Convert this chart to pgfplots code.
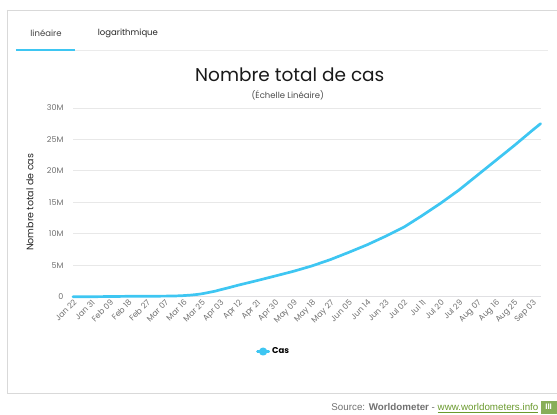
\documentclass[border=0pt]{standalone}
\usepackage{pgfplots}
\pgfplotsset{compat=1.18}
\usepackage{fontspec}
\setmainfont{Poppins}
\newfontfamily\srcfont{Liberation Sans}
\definecolor{wblue}{HTML}{3EC6F2}
\definecolor{tgray}{HTML}{707070}
\definecolor{ggray}{HTML}{E8E8E8}
\definecolor{wgreen}{HTML}{6A9A2E}
\begin{document}
\begin{tikzpicture}[x=1pt,y=1pt]
% canvas
\path (0,0) rectangle (557,415);
% frame
\draw[color=black!15, line width=0.8pt] (7,405) -- (557,405);
\draw[color=black!15, line width=0.8pt] (7,405) -- (7,21) -- (557,21);
\draw[color=black!8, line width=0.6pt] (16,365) -- (548,365);
\draw[wblue, line width=2pt] (16,365) -- (75,365);
\node[font=\fontsize{8.5}{10}\selectfont, text=black!75] at (46,382) {linéaire};
\node[font=\fontsize{8.5}{10}\selectfont, text=black!85] at (128,382) {logarithmique};
\node[font=\fontsize{18.5}{21}\selectfont, text=black!90] at (290,340) {Nombre total de cas};
\node[font=\fontsize{8.5}{10}\selectfont, text=black!70] at (288,320) {(Échelle Linéaire)};
\node[font=\srcfont\fontsize{9.8}{11}\selectfont, anchor=east, inner sep=0pt] at (539,7) {\textcolor{tgray}{Source: \textbf{Worldometer} - }\textcolor{wgreen}{\underline{www.worldometers.info}}};
\fill[wgreen!80] (541,1) rectangle (557,14);
\node[font=\srcfont\bfseries\fontsize{8}{9}\selectfont, text=white, inner sep=0pt] at (549,7.5) {III};
\begin{axis}[
  at={(73pt,118pt)}, anchor=south west,
  scale only axis, width=468pt, height=189pt,
  xmin=0, xmax=229, ymin=0, ymax=30000000,
  axis line style={draw=none},
  axis x line*=bottom,
  ytick={0,5000000,10000000,15000000,20000000,25000000,30000000},
  yticklabels={0,5M,10M,15M,20M,25M,30M},
  scaled y ticks=false,
  ymajorgrids, grid style={ggray, line width=0.8pt},
  xtick={0,9,...,225},
  xticklabels={Jan 22,Jan 31,Feb 09,Feb 18,Feb 27,Mar 07,Mar 16,Mar 25,Apr 03,Apr 12,Apr 21,Apr 30,May 09,May 18,May 27,Jun 05,Jun 14,Jun 23,Jul 02,Jul 11,Jul 20,Jul 29,Aug 07,Aug 16,Aug 25,Sep 03},
  x tick label style={rotate=45, anchor=north east, font=\fontsize{8}{9}\selectfont, text=tgray, inner sep=1.5pt},
  y tick label style={font=\fontsize{8}{9}\selectfont, text=tgray, xshift=-6pt},
  /pgf/number format/assume math mode=true,
  major tick length=0pt,
  ylabel={Nombre total de cas},
  ylabel style={font=\fontsize{9.5}{11}\selectfont, text=black!85, at={(axis description cs:-0.092,0.5)}, anchor=center},
  legend style={draw=none, fill=none, at={(0.385,-0.29)}, anchor=west, font=\bfseries\fontsize{8.5}{10}\selectfont, legend cell align=left},
  legend image code/.code={\draw[wblue, line width=2.5pt] (0pt,0pt) -- (0.4cm,0pt); \fill[wblue] (0.2cm,0pt) circle (2.7pt);},
  clip=false,
]
\draw[color=blue!10!black!12, line width=1pt] (axis cs:0,0) -- (axis cs:229,0);
\addplot[wblue, line width=2.7pt, line join=round, line cap=round] coordinates {
(0,580) (9,9900) (18,40500) (27,75700) (36,83900) (45,105800) (50,128000) (54,185000) (58,275000) (61,380000) (63,470000) (65,590000) (67,720000) (70,920000) (72,1100000) (76,1420000) (81,1850000) (90,2560000) (99,3300000) (108,4050000) (117,4900000) (126,5900000) (135,7050000) (144,8250000) (153,9600000) (162,11050000) (171,12900000) (180,14850000) (189,16950000) (198,19300000) (207,21650000) (216,24000000) (225,26450000) (229,27500000)
};
\addlegendentry{Cas}
\end{axis}
\end{tikzpicture}
\end{document}
